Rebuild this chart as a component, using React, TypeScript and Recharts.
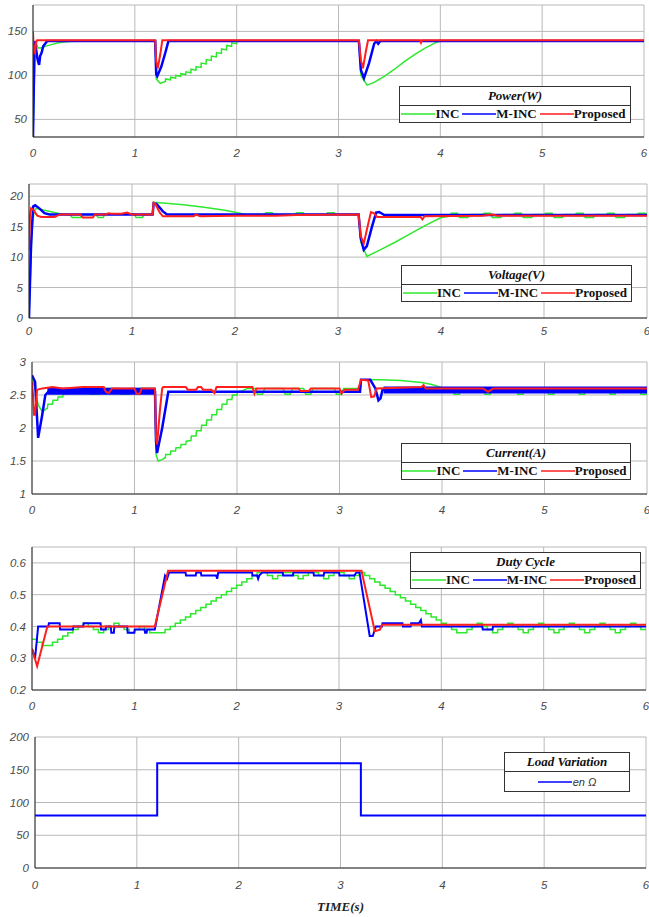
import { LineChart, Line, XAxis, YAxis, CartesianGrid, Legend } from "recharts";

type Pt = [number, number | null];

const GREEN = "#2ee82e";
const BLUE = "#0000ff";
const RED = "#ff1f1f";

const timeTicks = [0, 1, 2, 3, 4, 5, 6];
const powerTicks = [50, 100, 150];
const voltTicks = [0, 5, 10, 15, 20];
const currentTicks = [1, 1.5, 2, 2.5, 3];
const dutyTicks = [0.2, 0.3, 0.4, 0.5, 0.6];
const loadTicks = [0, 50, 100, 150, 200];

// ---- Power(W)
const powerInc: Pt[] = [
  [0, 30], [0.02, 124], [0.035, 136], [0.05, 131], [0.08, 131], [0.12, 133], [0.18, 135], [0.25, 137],
  [0.35, 138.5], [0.5, 139], [1.2, 139], [1.21, 96], [1.25, 91], [1.3, 93], [1.302, 96], [1.35, 95],
  [1.352, 98], [1.4, 97], [1.402, 100], [1.45, 99], [1.452, 102], [1.5, 101], [1.502, 104], [1.55, 103],
  [1.552, 107], [1.6, 106], [1.602, 110], [1.65, 109], [1.652, 114], [1.7, 113], [1.702, 118], [1.75, 117],
  [1.752, 122], [1.8, 121], [1.802, 126], [1.85, 125], [1.852, 130], [1.9, 129], [1.902, 134], [1.95, 133],
  [1.952, 137], [2.0, 136], [2.002, 139], [2.05, 139], [3.2, 139], [3.22, 100], [3.28, 89], [3.35, 92],
  [3.45, 99], [3.55, 107], [3.65, 116], [3.75, 124], [3.85, 131], [3.95, 137], [4.0, 139], [6, 139],
];
const powerMinc: Pt[] = [
  [0, 30], [0.015, 139], [0.03, 130], [0.045, 118], [0.06, 112], [0.07, 122], [0.085, 126], [0.1, 133],
  [0.14, 139], [1.2, 139], [1.21, 101], [1.22, 99], [1.26, 110], [1.3, 126], [1.33, 139], [3.2, 139],
  [3.22, 106], [3.25, 97], [3.3, 114], [3.35, 136], [3.37, 139], [3.39, 136], [3.41, 139], [6, 139],
];
const powerProp: Pt[] = [
  [0, 150], [0.004, 138], [0.01, 127], [0.02, 125], [0.03, 137], [0.04, 140], [1.2, 140], [1.21, 116],
  [1.225, 108], [1.25, 124], [1.27, 140], [3.2, 140], [3.22, 117], [3.24, 108], [3.27, 128], [3.29, 140],
  [3.8, 140], [3.81, 137], [3.82, 140], [6, 140],
];

// ---- Voltage(V)
const voltInc: Pt[] = [
  [0, 0], [0.03, 15], [0.05, 17.5], [0.07, 18], [0.15, 17.7], [0.3, 17.1], [0.4, 16.9], [0.42, 16.5],
  [0.5, 16.5], [0.52, 17], [0.65, 17], [0.67, 16.5], [0.72, 16.5], [0.74, 17.1], [1.02, 17.1], [1.04, 16.5],
  [1.1, 16.5], [1.12, 17], [1.2, 17], [1.21, 19], [1.3, 18.9], [1.5, 18.6], [1.7, 18.2], [1.9, 17.7],
  [2.05, 17.2], [2.1, 17], [2.28, 17], [2.3, 17.3], [2.36, 17.3], [2.38, 17], [2.58, 17], [2.6, 17.3],
  [2.66, 17.3], [2.68, 17], [2.88, 17], [2.9, 17.3], [2.96, 17.3], [2.98, 17], [3.2, 17], [3.22, 12.5],
  [3.28, 10.1], [3.4, 11.1], [3.55, 12.4], [3.7, 13.8], [3.85, 15.2], [4.0, 16.5], [4.08, 16.7], [4.1, 17.2],
  [4.16, 17.2], [4.18, 16.5], [4.26, 16.5], [4.28, 17], [4.4, 17], [4.42, 17.2], [4.48, 17.2], [4.5, 16.5],
  [4.58, 16.5], [4.6, 17], [4.7, 17], [4.72, 17.2], [4.78, 17.2], [4.8, 16.5], [4.88, 16.5], [4.9, 17],
  [5.0, 17], [5.02, 17.2], [5.08, 17.2], [5.1, 16.5], [5.18, 16.5], [5.2, 17], [5.3, 17], [5.32, 17.2],
  [5.38, 17.2], [5.4, 16.5], [5.48, 16.5], [5.5, 17], [5.6, 17], [5.62, 17.2], [5.68, 17.2], [5.7, 16.5],
  [5.78, 16.5], [5.8, 17], [5.9, 17], [5.92, 17.2], [5.98, 17.2], [6, 17],
];
const voltMinc: Pt[] = [
  [0, 0], [0.02, 12], [0.04, 18.3], [0.06, 18.5], [0.1, 18], [0.15, 17.2], [0.2, 17], [1.2, 17],
  [1.21, 18.8], [1.24, 18.7], [1.3, 17.5], [1.34, 17], [3.2, 17], [3.22, 13.2], [3.25, 11.2], [3.28, 11.8],
  [3.33, 15], [3.37, 17.3], [3.4, 17.4], [3.45, 16.9], [6, 16.9],
];
const voltProp: Pt[] = [
  [0, 11], [0.01, 17], [0.02, 18], [0.04, 17.8], [0.08, 16.8], [0.12, 16.6], [0.25, 16.6], [0.3, 17],
  [0.5, 17], [0.52, 16.5], [0.62, 16.5], [0.64, 17], [0.75, 17], [0.77, 17.2], [0.8, 17.1], [0.9, 17.1],
  [0.95, 17.3], [1.0, 17], [1.2, 17], [1.21, 18.9], [1.23, 18.6], [1.27, 17.3], [1.3, 16.7], [1.6, 16.7],
  [1.62, 17], [1.66, 16.7], [2.0, 16.8], [2.4, 16.8], [2.6, 16.9], [3.2, 17], [3.22, 13.5], [3.25, 12.2],
  [3.28, 14.5], [3.32, 17.4], [3.35, 17.2], [3.38, 16.6], [3.8, 16.6], [3.82, 16.2], [3.84, 16.7], [4.4, 16.8],
  [4.5, 17], [4.55, 16.8], [6, 16.8],
];

// ---- Current(A)
const curInc: Pt[] = [
  [0, 2.75], [0.03, 2.6], [0.06, 2.35], [0.1, 2.25], [0.15, 2.3], [0.155, 2.36], [0.2, 2.36], [0.205, 2.42],
  [0.25, 2.42], [0.255, 2.47], [0.3, 2.47], [0.305, 2.52], [0.35, 2.52], [0.355, 2.56], [0.4, 2.57], [0.45, 2.6],
  [0.55, 2.6], [0.57, 2.51], [0.65, 2.51], [0.67, 2.6], [0.85, 2.6], [0.87, 2.51], [0.95, 2.51], [0.97, 2.6],
  [1.2, 2.6], [1.21, 1.6], [1.23, 1.5], [1.27, 1.52], [1.3, 1.55], [1.305, 1.6], [1.35, 1.6], [1.355, 1.65],
  [1.4, 1.65], [1.405, 1.7], [1.45, 1.7], [1.455, 1.75], [1.5, 1.75], [1.505, 1.8], [1.55, 1.81], [1.555, 1.88],
  [1.6, 1.88], [1.605, 1.96], [1.65, 1.96], [1.655, 2.04], [1.7, 2.04], [1.705, 2.12], [1.75, 2.12], [1.755, 2.2],
  [1.8, 2.2], [1.805, 2.28], [1.85, 2.28], [1.855, 2.36], [1.9, 2.36], [1.905, 2.43], [1.95, 2.43], [1.955, 2.5],
  [2.0, 2.5], [2.005, 2.55], [2.05, 2.56], [2.1, 2.6], [2.18, 2.6], [2.2, 2.51], [2.25, 2.51], [2.27, 2.6],
  [2.45, 2.6], [2.47, 2.51], [2.52, 2.51], [2.54, 2.6], [2.65, 2.6], [2.67, 2.51], [2.72, 2.51], [2.74, 2.6],
  [2.95, 2.6], [2.97, 2.51], [3.02, 2.51], [3.04, 2.6], [3.2, 2.6], [3.21, 2.73], [3.4, 2.73], [3.6, 2.72],
  [3.8, 2.69], [3.9, 2.66], [4.0, 2.61], [4.1, 2.6], [4.12, 2.51], [4.17, 2.51], [4.19, 2.6], [4.4, 2.6],
  [4.42, 2.51], [4.47, 2.51], [4.49, 2.6], [4.72, 2.6], [4.74, 2.51], [4.79, 2.51], [4.81, 2.6], [5.02, 2.6],
  [5.04, 2.51], [5.09, 2.51], [5.11, 2.6], [5.32, 2.6], [5.34, 2.51], [5.39, 2.51], [5.41, 2.6], [5.62, 2.6],
  [5.64, 2.51], [5.69, 2.51], [5.71, 2.6], [5.92, 2.6], [5.94, 2.51], [5.99, 2.51], [6, 2.6],
];
const curMinc: Pt[] = [
  [0, 2.8], [0.03, 2.7], [0.06, 1.85], [0.1, 2.2], [0.13, 2.5], [0.16, 2.55], [1.2, 2.55], [1.21, 1.8],
  [1.22, 1.62], [1.27, 2.0], [1.33, 2.55], [3.2, 2.55], [3.21, 2.73], [3.3, 2.73], [3.35, 2.6], [3.38, 2.42],
  [3.4, 2.45], [3.42, 2.58], [6, 2.58],
];
// fast switching ripple of M-INC shows as a thick band
const curMincBand: Pt[] = [
  [0.15, 2.555], [1.2, 2.555], [1.21, null], [3.43, 2.575], [6, 2.575],
];
const curProp: Pt[] = [
  [0, 2.7], [0.01, 2.5], [0.02, 2.2], [0.03, 2.2], [0.05, 2.58], [0.1, 2.6], [0.2, 2.62], [0.3, 2.6],
  [0.5, 2.62], [0.7, 2.62], [0.72, 2.55], [0.75, 2.53], [0.78, 2.6], [1.0, 2.6], [1.02, 2.52], [1.05, 2.52],
  [1.07, 2.6], [1.2, 2.6], [1.21, 1.85], [1.22, 1.75], [1.25, 2.3], [1.27, 2.6], [1.28, 2.62], [1.5, 2.62],
  [1.52, 2.58], [1.6, 2.58], [1.62, 2.62], [1.65, 2.62], [1.67, 2.58], [1.75, 2.58], [1.78, 2.53], [1.8, 2.62],
  [2.15, 2.62], [2.17, 2.52], [2.19, 2.6], [2.6, 2.6], [2.62, 2.56], [2.7, 2.56], [2.72, 2.6], [3.0, 2.6],
  [3.02, 2.52], [3.05, 2.58], [3.18, 2.58], [3.21, 2.73], [3.28, 2.72], [3.31, 2.47], [3.34, 2.48], [3.36, 2.6],
  [3.8, 2.62], [3.82, 2.65], [3.84, 2.6], [4.4, 2.6], [4.45, 2.55], [4.5, 2.6], [6, 2.6],
];

// ---- Duty Cycle
const dutyInc: Pt[] = [
  [0, 0.36], [0.05, 0.35], [0.1, 0.34], [0.2, 0.35], [0.25, 0.36], [0.3, 0.37], [0.35, 0.38], [0.4, 0.39],
  [0.45, 0.4], [0.5, 0.41], [0.55, 0.4], [0.6, 0.39], [0.65, 0.38], [0.7, 0.39], [0.75, 0.4], [0.8, 0.41],
  [0.85, 0.4], [0.9, 0.39], [0.95, 0.38], [1.0, 0.39], [1.05, 0.4], [1.1, 0.39], [1.15, 0.38], [1.3, 0.39],
  [1.35, 0.4], [1.4, 0.41], [1.45, 0.42], [1.5, 0.43], [1.55, 0.44], [1.6, 0.45], [1.65, 0.46], [1.7, 0.47],
  [1.75, 0.48], [1.8, 0.49], [1.85, 0.5], [1.9, 0.51], [1.95, 0.52], [2.0, 0.53], [2.05, 0.54], [2.1, 0.55],
  [2.15, 0.56], [2.2, 0.57], [2.3, 0.56], [2.35, 0.55], [2.4, 0.56], [2.45, 0.57], [2.55, 0.56], [2.6, 0.55],
  [2.65, 0.56], [2.7, 0.57], [2.8, 0.56], [2.85, 0.55], [2.9, 0.56], [2.95, 0.57], [3.05, 0.56], [3.1, 0.55],
  [3.15, 0.56], [3.2, 0.57], [3.25, 0.56], [3.3, 0.55], [3.35, 0.54], [3.4, 0.53], [3.45, 0.52], [3.5, 0.51],
  [3.55, 0.5], [3.6, 0.49], [3.65, 0.48], [3.7, 0.47], [3.75, 0.46], [3.8, 0.45], [3.85, 0.44], [3.9, 0.43],
  [3.95, 0.42], [4.0, 0.41], [4.05, 0.4], [4.1, 0.39], [4.15, 0.38], [4.25, 0.39], [4.3, 0.4], [4.35, 0.41],
  [4.4, 0.4], [4.45, 0.39], [4.5, 0.38], [4.55, 0.39], [4.6, 0.4], [4.65, 0.41], [4.7, 0.4], [4.75, 0.39],
  [4.8, 0.38], [4.85, 0.39], [4.9, 0.4], [4.95, 0.41], [5.0, 0.4], [5.05, 0.39], [5.1, 0.38], [5.15, 0.39],
  [5.2, 0.4], [5.25, 0.41], [5.3, 0.4], [5.35, 0.39], [5.4, 0.38], [5.45, 0.39], [5.5, 0.4], [5.55, 0.41],
  [5.6, 0.4], [5.65, 0.39], [5.7, 0.38], [5.75, 0.39], [5.8, 0.4], [5.85, 0.41], [5.9, 0.4], [5.95, 0.39],
  [6, 0.39],
];
const dutyMinc: Pt[] = [
  [0, 0.33], [0.03, 0.3], [0.06, 0.4], [0.16, 0.4], [0.165, 0.41], [0.27, 0.41], [0.275, 0.39], [0.4, 0.39],
  [0.405, 0.4], [0.5, 0.4], [0.505, 0.41], [0.67, 0.41], [0.675, 0.39], [0.72, 0.39], [0.725, 0.4], [0.77, 0.4],
  [0.775, 0.38], [0.8, 0.38], [0.805, 0.4], [0.93, 0.4], [0.935, 0.38], [1.0, 0.38], [1.005, 0.39], [1.1, 0.39],
  [1.105, 0.38], [1.12, 0.38], [1.125, 0.39], [1.2, 0.39], [1.3, 0.56], [1.32, 0.55], [1.34, 0.57], [1.5, 0.57],
  [1.505, 0.56], [1.6, 0.56], [1.605, 0.57], [1.65, 0.57], [1.655, 0.56], [1.8, 0.56], [1.81, 0.55], [1.82, 0.57],
  [2.15, 0.57], [2.155, 0.56], [2.2, 0.56], [2.21, 0.55], [2.22, 0.56], [2.25, 0.57], [2.45, 0.57], [2.455, 0.56],
  [2.55, 0.56], [2.555, 0.57], [2.75, 0.57], [2.755, 0.56], [2.85, 0.56], [2.855, 0.57], [3.0, 0.57], [3.005, 0.56],
  [3.15, 0.56], [3.17, 0.57], [3.2, 0.57], [3.3, 0.37], [3.33, 0.37], [3.36, 0.4], [3.42, 0.4], [3.425, 0.41],
  [3.62, 0.41], [3.625, 0.4], [3.7, 0.4], [3.705, 0.41], [3.78, 0.41], [3.8, 0.42], [3.81, 0.4], [4.4, 0.4],
  [4.405, 0.39], [4.5, 0.39], [4.505, 0.4], [6, 0.4],
];
const dutyProp: Pt[] = [
  [0, 0.33], [0.05, 0.275], [0.15, 0.4], [1.2, 0.4], [1.33, 0.575], [3.22, 0.575], [3.35, 0.385], [3.4, 0.39],
  [3.42, 0.405], [6, 0.405],
];

// ---- Load variation (ohm)
const loadOhm: Pt[] = [[0, 80], [1.2, 160], [3.2, 80], [6, 80]];

const toRows = (pts: Pt[]) => pts.map(([t, v]) => ({ t, v }));

type Series = {
  name: string;
  points: Pt[];
  color: string;
  width: number;
  curve?: "linear" | "stepAfter";
  hideInLegend?: boolean;
};

type LegendBox = { title: string; left: number; top: number; width: number; height: number; sansLabel?: boolean };

type PanelProps = {
  top: number;
  bottom: number;
  left: number;
  right: number;
  yDomain: [number, number];
  yTicks: number[];
  xTickMargin: number;
  series: Series[];
  legend: LegendBox;
};

const SANS = "'Liberation Sans', Arial, sans-serif";
const SERIF = "'Liberation Serif', 'Times New Roman', 'DejaVu Serif', serif";
const frame = { stroke: "#2b2b2b", strokeWidth: 1 };

// italic grey tick labels like the MATLAB export
const makeTick = (dy: string) => (props: any) => {
  const { x, y, payload, textAnchor } = props;
  return (
    <text
      x={x}
      y={y}
      dy={dy}
      textAnchor={textAnchor}
      fontFamily={SANS}
      fontStyle="italic"
      fontSize={11.5}
      fill="#4a4a4a"
    >
      {payload.value}
    </text>
  );
};
const xTick = makeTick("0.71em");
const yTick = makeTick("0.355em");

function LegendContent({ box, series }: { box: LegendBox; series: Series[] }) {
  const items = series.filter((s) => !s.hideInLegend);
  return (
    <div
      style={{
        boxSizing: "border-box",
        width: box.width,
        height: box.height,
        border: "1px solid #333",
        background: "#fff",
        fontFamily: SERIF,
        color: "#111",
      }}
    >
      <div
        style={{
          height: 18,
          lineHeight: "18px",
          textAlign: "center",
          fontWeight: "bold",
          fontStyle: "italic",
          fontSize: 13,
          borderBottom: "1px solid #333",
        }}
      >
        {box.title}
      </div>
      <div style={{ display: "flex", justifyContent: "center", alignItems: "center", height: box.height - 21 }}>
        {items.map((s) => (
          <div key={s.name} style={{ display: "flex", alignItems: "center", marginRight: box.sansLabel ? 0 : 3 }}>
            <svg width={34} height={4} style={{ display: "block" }}>
              <line x1={0} y1={2} x2={34} y2={2} stroke={s.color} strokeWidth={1.6} />
            </svg>
            <span
              style={
                box.sansLabel
                  ? { fontFamily: SANS, fontStyle: "italic", fontSize: 11, color: "#333", marginLeft: 1 }
                  : { fontWeight: "bold", fontSize: 13 }
              }
            >
              {s.name}
            </span>
          </div>
        ))}
      </div>
    </div>
  );
}

function Panel({ top, bottom, left, right, yDomain, yTicks, xTickMargin, series, legend }: PanelProps) {
  const chartTop = top - 5;
  const height = bottom - top + 5 + 30;
  return (
    <div style={{ position: "absolute", left: 0, top: chartTop }}>
      <LineChart width={649} height={height} margin={{ top: 5, right: 649 - right, bottom: 0, left: 0 }}>
        <CartesianGrid stroke="#b9b9b9" strokeWidth={1} />
        <XAxis
          dataKey="t"
          type="number"
          domain={[0, 6]}
          ticks={timeTicks}
          interval={0}
          allowDataOverflow
          height={30}
          tickSize={0}
          tickMargin={xTickMargin}
          tickLine={false}
          axisLine={frame}
          tick={xTick}
        />
        <XAxis xAxisId="top" orientation="top" type="number" domain={[0, 6]} height={0} tick={false} tickLine={false} axisLine={frame} />
        <YAxis
          type="number"
          domain={yDomain}
          ticks={yTicks}
          interval={0}
          allowDataOverflow
          width={left}
          tickSize={0}
          tickMargin={6}
          tickLine={false}
          axisLine={frame}
          tick={yTick}
        />
        <YAxis yAxisId="right" orientation="right" domain={[0, 1]} width={0} tick={false} tickLine={false} axisLine={frame} />
        {series.map((s, i) => (
          <Line
            key={s.name + i}
            data={toRows(s.points)}
            dataKey="v"
            name={s.name}
            type={s.curve || "linear"}
            stroke={s.color}
            strokeWidth={s.width}
            dot={false}
            activeDot={false}
            connectNulls={false}
            legendType={s.hideInLegend ? "none" : "line"}
            isAnimationActive={false}
          />
        ))}
        <Legend
          layout="horizontal"
          verticalAlign="middle"
          align="center"
          wrapperStyle={{ left: legend.left, top: legend.top - chartTop, width: legend.width, height: legend.height }}
          content={() => <LegendContent box={legend} series={series} />}
        />
      </LineChart>
    </div>
  );
}

export default function App() {
  return (
    <div style={{ position: "absolute", left: 0, top: 0, width: 649, height: 917, background: "#fff" }}>
      <Panel
        top={5}
        bottom={137}
        left={33}
        right={644}
        yDomain={[30, 180]}
        yTicks={powerTicks}
        xTickMargin={12}
        legend={{ title: "Power(W)", left: 399, top: 86, width: 232, height: 37 }}
        series={[
          { name: "INC", points: powerInc, color: GREEN, width: 1.5 },
          { name: "M-INC", points: powerMinc, color: BLUE, width: 2.5 },
          { name: "Proposed", points: powerProp, color: RED, width: 2 },
        ]}
      />
      <Panel
        top={184}
        bottom={318}
        left={29}
        right={647}
        yDomain={[0, 22]}
        yTicks={voltTicks}
        xTickMargin={9}
        legend={{ title: "Voltage(V)", left: 401, top: 265, width: 231, height: 37 }}
        series={[
          { name: "INC", points: voltInc, color: GREEN, width: 1.5 },
          { name: "M-INC", points: voltMinc, color: BLUE, width: 2.5 },
          { name: "Proposed", points: voltProp, color: RED, width: 2 },
        ]}
      />
      <Panel
        top={362}
        bottom={494}
        left={32}
        right={647}
        yDomain={[1, 3]}
        yTicks={currentTicks}
        xTickMargin={12}
        legend={{ title: "Current(A)", left: 401, top: 443, width: 230, height: 37 }}
        series={[
          { name: "INC", points: curInc, color: GREEN, width: 1.5 },
          { name: "M-INC band", points: curMincBand, color: BLUE, width: 7, hideInLegend: true },
          { name: "M-INC", points: curMinc, color: BLUE, width: 2.5 },
          { name: "Proposed", points: curProp, color: RED, width: 2 },
        ]}
      />
      <Panel
        top={547}
        bottom={690}
        left={32}
        right={646}
        yDomain={[0.2, 0.65]}
        yTicks={dutyTicks}
        xTickMargin={12}
        legend={{ title: "Duty Cycle", left: 410, top: 552, width: 231, height: 37 }}
        series={[
          { name: "INC", points: dutyInc, color: GREEN, width: 1.5, curve: "stepAfter" },
          { name: "M-INC", points: dutyMinc, color: BLUE, width: 2 },
          { name: "Proposed", points: dutyProp, color: RED, width: 2 },
        ]}
      />
      <Panel
        top={737}
        bottom={868}
        left={35}
        right={646}
        yDomain={[0, 200]}
        yTicks={loadTicks}
        xTickMargin={13}
        legend={{ title: "Load Variation", left: 504, top: 752, width: 126, height: 40, sansLabel: true }}
        series={[{ name: "en Ω", points: loadOhm, color: BLUE, width: 2, curve: "stepAfter" }]}
      />
      <div
        style={{
          position: "absolute",
          left: 35,
          width: 611,
          top: 899,
          textAlign: "center",
          fontFamily: SERIF,
          fontWeight: "bold",
          fontStyle: "italic",
          fontSize: 13,
          color: "#222",
        }}
      >
        TIME(s)
      </div>
    </div>
  );
}
